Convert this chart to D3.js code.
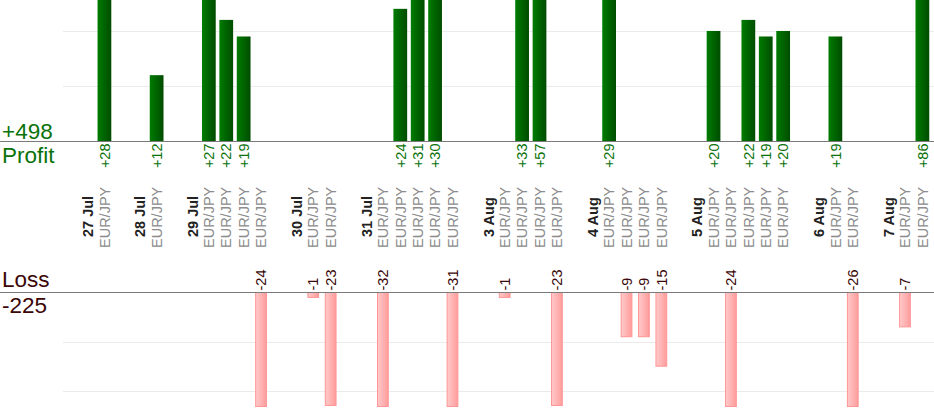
<!DOCTYPE html>
<html>
<head>
<meta charset="utf-8">
<script src="https://cdn.jsdelivr.net/npm/d3@7"></script>
<style>
  body { margin: 0; background: #fff; }
  text { font-family: "Liberation Sans", Arial, sans-serif; }
</style>
</head>
<body>
<div id="chart"></div>
<script>
var width = 934;
var height = 420;

// trading days and how many trades were closed on each
var days = ["27 Jul", "28 Jul", "29 Jul", "30 Jul", "31 Jul", "3 Aug", "4 Aug", "5 Aug", "6 Aug", "7 Aug"];
var tradesPerDay = [1, 1, 4, 2, 5, 4, 4, 5, 2, 2];

// result of each trade, in order
var tradeResults = [28, 12, 27, 22, 19, -24, -1, -23, -32, 24, 31, 30, -31,
    -1, 33, 57, -23, 29, -9, -9, -15, 20, -24, 22, 19, 20, 19, -26, -7, 86];
var tradeSymbols = ["EUR/JPY", "EUR/JPY", "EUR/JPY", "EUR/JPY", "EUR/JPY", "EUR/JPY",
    "EUR/JPY", "EUR/JPY", "EUR/JPY", "EUR/JPY", "EUR/JPY", "EUR/JPY", "EUR/JPY",
    "EUR/JPY", "EUR/JPY", "EUR/JPY", "EUR/JPY", "EUR/JPY", "EUR/JPY", "EUR/JPY",
    "EUR/JPY", "EUR/JPY", "EUR/JPY", "EUR/JPY", "EUR/JPY", "EUR/JPY", "EUR/JPY",
    "EUR/JPY", "EUR/JPY", "EUR/JPY"];

var profitTicks = [10, 20];
var lossTicks = [10, 20];

// build the slots: empty gap, date label, then the trades of the day
var slots = [];
var t = 0;
days.forEach(function (day, i) {
    slots.push({key: "gap" + i, type: "gap"});
    slots.push({key: "day" + i, type: "date", label: day});
    for (var k = 0; k < tradesPerDay[i]; k++) {
        slots.push({key: "t" + t, type: "trade", symbol: tradeSymbols[t], value: tradeResults[t]});
        t++;
    }
});
var trades = slots.filter(function (d) { return d.type == "trade"; });

var profitSum = d3.sum(tradeResults.filter(function (v) { return v > 0; }));
var lossSum = d3.sum(tradeResults.filter(function (v) { return v < 0; }));

var svg = d3.select("#chart").append("svg")
    .attr("width", width)
    .attr("height", height);

var defs = svg.append("defs");
var gGreen = defs.append("linearGradient").attr("id", "green");
gGreen.append("stop").attr("offset", "0%").attr("stop-color", "#007c00");
gGreen.append("stop").attr("offset", "100%").attr("stop-color", "#004c00");
var gPink = defs.append("linearGradient").attr("id", "pink");
gPink.append("stop").attr("offset", "0%").attr("stop-color", "#ffcaca");
gPink.append("stop").attr("offset", "100%").attr("stop-color", "#ff9c9c");

var xScale = d3.scaleBand()
    .domain(slots.map(function (d) { return d.key; }))
    .range([61, 931])
    .paddingInner(0.21)
    .paddingOuter(0.1);

var profitBase = 141.5;
var lossBase = 292.5;
var labelSize = "14.5px";

var yProfit = d3.scaleLinear()
    .domain([0, 25.6])
    .range([profitBase, 0])
    .clamp(true);

var yLoss = d3.scaleLinear()
    .domain([0, 23.2])
    .range([lossBase, 406.5])
    .clamp(true);

// grid lines
svg.append("g").selectAll("line")
    .data(profitTicks).enter().append("line")
    .attr("x1", 63).attr("x2", width)
    .attr("y1", function (d) { return Math.round(yProfit(d)) + 0.5; })
    .attr("y2", function (d) { return Math.round(yProfit(d)) + 0.5; })
    .style("stroke", "#ebebeb");
svg.append("g").selectAll("line")
    .data(lossTicks).enter().append("line")
    .attr("x1", 63).attr("x2", width)
    .attr("y1", function (d) { return Math.round(yLoss(d)) + 0.5; })
    .attr("y2", function (d) { return Math.round(yLoss(d)) + 0.5; })
    .style("stroke", "#ebebeb");

// profit bars
var wins = trades.filter(function (d) { return d.value > 0; });
svg.append("g").selectAll("rect")
    .data(wins).enter().append("rect")
    .attr("x", function (d) { return xScale(d.key); })
    .attr("y", function (d) { return yProfit(d.value); })
    .attr("width", xScale.bandwidth())
    .attr("height", function (d) { return profitBase - yProfit(d.value); })
    .style("fill", "url(#green)");

svg.append("g").selectAll("text")
    .data(wins).enter().append("text")
    .attr("transform", function (d) {
        return "translate(" + (xScale(d.key) + xScale.bandwidth() / 2) + "," + (profitBase + 2) + ") rotate(-90)";
    })
    .attr("dy", "0.36em")
    .style("text-anchor", "end")
    .style("font-size", labelSize)
    .style("fill", "#0a720a")
    .text(function (d) { return "+" + d.value; });

// loss bars
var losses = trades.filter(function (d) { return d.value < 0; });
svg.append("g").selectAll("rect")
    .data(losses).enter().append("rect")
    .attr("x", function (d) { return xScale(d.key) + 1.5; })
    .attr("y", lossBase)
    .attr("width", xScale.bandwidth() - 3)
    .attr("height", function (d) { return yLoss(-d.value) - lossBase; })
    .style("fill", "url(#pink)")
    .style("stroke", "#ff9595")
    .style("stroke-width", 1);

svg.append("g").selectAll("text")
    .data(losses).enter().append("text")
    .attr("transform", function (d) {
        return "translate(" + (xScale(d.key) + xScale.bandwidth() / 2) + "," + (lossBase - 2) + ") rotate(-90)";
    })
    .attr("dy", "0.36em")
    .style("text-anchor", "start")
    .style("font-size", labelSize)
    .style("fill", "#3a0606")
    .text(function (d) { return d.value; });

// base lines
svg.append("line")
    .attr("x1", 0).attr("x2", width)
    .attr("y1", profitBase).attr("y2", profitBase)
    .style("stroke", "#7a7a7a");
svg.append("line")
    .attr("x1", 0).attr("x2", width)
    .attr("y1", lossBase).attr("y2", lossBase)
    .style("stroke", "#7a7a7a");

// category labels
svg.append("g").selectAll("text")
    .data(slots.filter(function (d) { return d.type != "gap"; }))
    .enter().append("text")
    .attr("transform", function (d) {
        var y = d.type == "date" ? 237 : 248;
        return "translate(" + (xScale(d.key) + xScale.bandwidth() / 2 + (d.type == "date" ? 1 : 0)) + "," + y + ") rotate(-90)";
    })
    .attr("dy", "0.36em")
    .style("text-anchor", "start")
    .style("font-size", labelSize)
    .style("font-weight", function (d) { return d.type == "date" ? "bold" : "normal"; })
    .style("fill", function (d) { return d.type == "date" ? "#222" : "#8c8c8c"; })
    .text(function (d) { return d.type == "date" ? d.label : d.symbol; });

// totals
svg.append("text").attr("x", 2).attr("y", 138.5)
    .style("font-size", "22.5px").style("fill", "#0a720a")
    .text("+" + profitSum);
svg.append("text").attr("x", 2).attr("y", 162.5)
    .style("font-size", "22.5px").style("fill", "#0a720a")
    .text("Profit");
svg.append("text").attr("x", 2).attr("y", 286.5)
    .style("font-size", "22.5px").style("fill", "#3a0606")
    .text("Loss");
svg.append("text").attr("x", 2).attr("y", 313)
    .style("font-size", "22.5px").style("fill", "#3a0606")
    .text(lossSum);
</script>
</body>
</html>
